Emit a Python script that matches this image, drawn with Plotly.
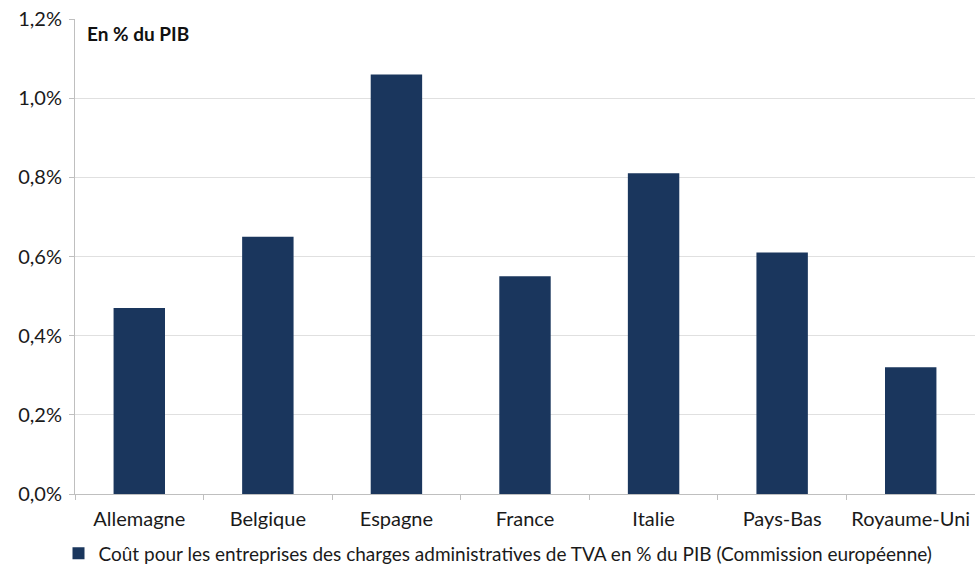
import plotly.graph_objects as go

categories = ["Allemagne", "Belgique", "Espagne", "France", "Italie", "Pays-Bas", "Royaume-Uni"]
values = [0.47, 0.65, 1.06, 0.55, 0.81, 0.61, 0.32]
series_name = "Coût pour les entreprises des charges administratives de TVA en % du PIB (Commission européenne)"
tick_vals = [0, 0.2, 0.4, 0.6, 0.8, 1.0, 1.2]
tick_text = ["0,0%", "0,2%", "0,4%", "0,6%", "0,8%", "1,0%", "1,2%"]

FONT = "Lato, Calibri, Carlito, sans-serif"
TXT = "#1a1a1a"

fig = go.Figure()
fig.add_trace(go.Bar(
    x=categories, y=values, name=series_name,
    marker=dict(color="#1A365D", line=dict(width=0)),
    width=0.4, showlegend=True,
))

fig.update_layout(
    width=975, height=564,
    margin=dict(l=75, r=0, t=19, b=70, autoexpand=False),
    paper_bgcolor="white", plot_bgcolor="white",
    font=dict(family=FONT, size=20, color=TXT),
    showlegend=True,
    legend=dict(orientation="h", x=0.47, xanchor="center", xref="paper",
                y=-0.085, yanchor="top", font=dict(size=19, color=TXT),
                itemwidth=30, tracegroupgap=0, bgcolor="rgba(0,0,0,0)"),
    annotations=[dict(text="<b>En % du PIB</b>", x=0, xref="paper", xanchor="left",
                      xshift=10, y=1.2, yref="y", yanchor="top", yshift=-1,
                      showarrow=False, font=dict(size=19, color="#111111"))],
)
fig.update_xaxes(
    type="category", showline=True, linecolor="#BFBFBF", linewidth=1,
    ticks="outside", tickson="boundaries", ticklen=5, tickcolor="#BFBFBF",
    showgrid=False, tickfont=dict(size=20, color=TXT), ticklabelstandoff=7,
)
fig.update_yaxes(
    range=[0, 1.2], tickvals=tick_vals, ticktext=tick_text,
    showline=True, linecolor="#BFBFBF", linewidth=1,
    ticks="outside", ticklen=5, tickcolor="#BFBFBF",
    showgrid=True, gridcolor="#E0E0E0", gridwidth=1, zeroline=False,
    tickfont=dict(size=20, color=TXT), ticklabelstandoff=3,
)

fig.write_html("out.html", config={"displayModeBar": False},
               post_script="document.body.style.margin='0px';")
